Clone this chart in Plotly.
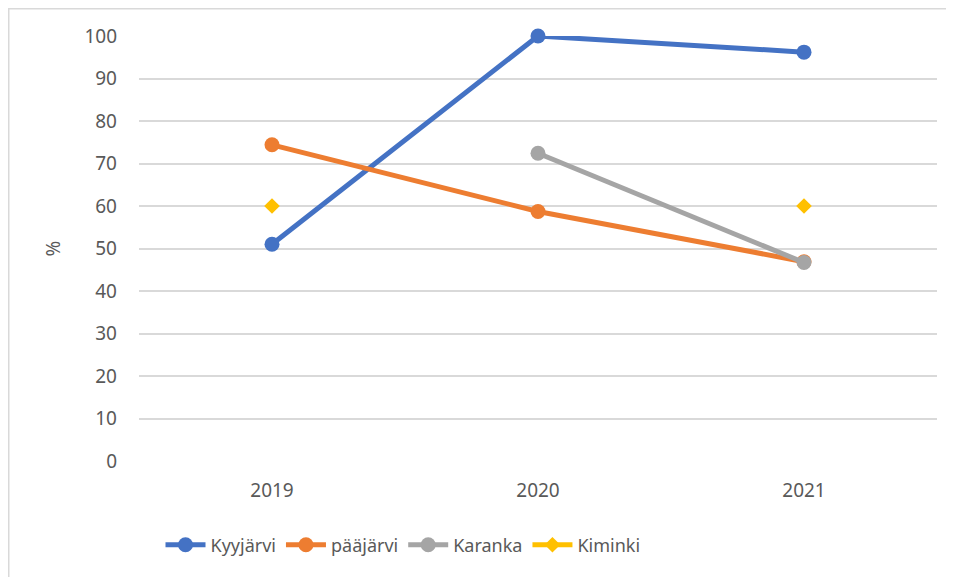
import plotly.graph_objects as go

years = ["2019", "2020", "2021"]
kyyjarvi = [51, 100, 96.2]
paajarvi = [74.4, 58.7, 46.9]
karanka = [None, 72.4, 46.7]
kiminki = [60, None, 60]
y_ticks = [0, 10, 20, 30, 40, 50, 60, 70, 80, 90, 100]

FONT = "Noto Sans"
TXT = "#595959"
fig = go.Figure()
series = [
    ("Kyyjärvi", kyyjarvi, "#4472C4", "circle", 15),
    ("pääjärvi", paajarvi, "#ED7D31", "circle", 15),
    ("Karanka", karanka, "#A5A5A5", "circle", 15),
    ("Kiminki", kiminki, "#FFC000", "diamond", 12),
]
for name, vals, col, sym, sz in series:
    fig.add_trace(go.Scatter(
        x=years, y=vals, name=name, mode="lines+markers",
        line=dict(color=col, width=5),
        marker=dict(color=col, symbol=sym, size=sz),
        connectgaps=False, cliponaxis=False,
    ))

# page body has an 8px margin; figure coords are page coords minus 8
W, H = 946, 569
L, R, T, B = 131, 17, 28, 116
pw, ph = W - L - R, H - T - B

fig.update_layout(
    width=W, height=H,
    margin=dict(l=L, r=R, t=T, b=B),
    paper_bgcolor="white", plot_bgcolor="white",
    font=dict(family=FONT, size=19, color=TXT),
    showlegend=True,
    legend=dict(orientation="h", x=(403 - 8 - L) / pw, xanchor="center",
                y=(H - B - 537) / ph, yanchor="middle",
                font=dict(size=18, color=TXT), itemwidth=40, tracegroupgap=0),
    xaxis=dict(type="category", showgrid=False, showline=False, zeroline=False,
               ticks="", ticklabelstandoff=16, range=[-0.5, 2.5]),
    yaxis=dict(range=[0, 100], tickvals=y_ticks, showgrid=True, gridcolor="#D9D9D9",
               gridwidth=1.5, zeroline=False, showline=False, ticks="",
               ticklabelstandoff=21,
               title=dict(text="%", standoff=18, font=dict(size=19, color=TXT))),
    shapes=[dict(type="rect", xref="paper", yref="paper",
                 x0=(0.75 - L) / pw, x1=1.2, y0=-0.5, y1=(H - B - 0.75) / ph,
                 line=dict(color="#D9D9D9", width=1.5), fillcolor="rgba(0,0,0,0)",
                 layer="below")],
)
fig.write_html("out.html")
